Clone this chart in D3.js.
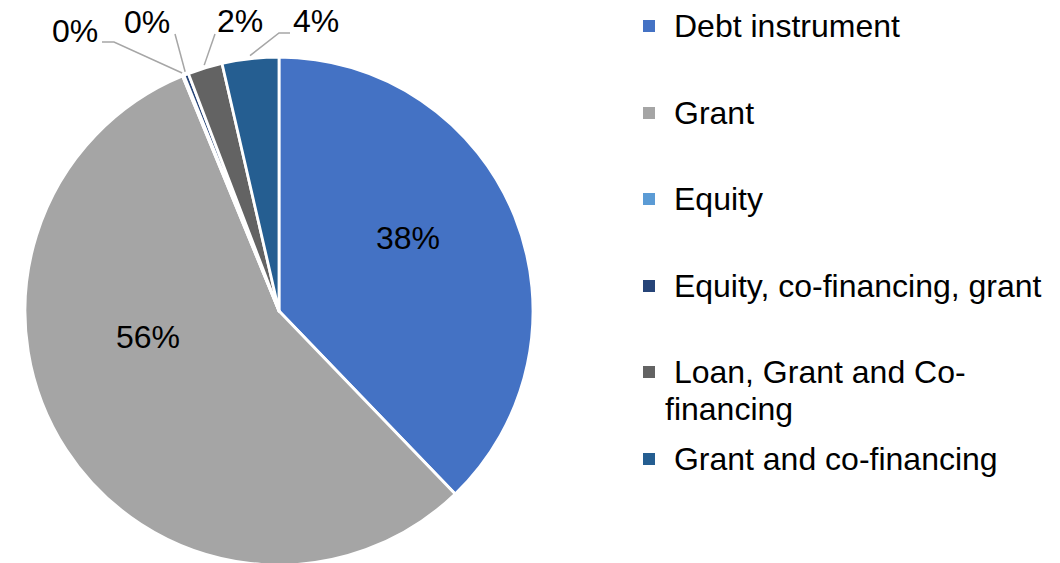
<!DOCTYPE html>
<html><head><meta charset="utf-8">
<script src="https://cdn.jsdelivr.net/npm/d3@7"></script>
<style>html,body{margin:0;padding:0;background:#fff;} svg{display:block}</style>
</head><body><svg id="c" width="1060" height="563"></svg>
<script>
// ---- data ----
const categories = ["Debt instrument","Grant","Equity","Equity, co-financing, grant","Loan, Grant and Co-financing","Grant and co-financing"];
const values = [37.8, 56.0, 0.1, 0.3, 2.2, 3.6];
const colors = ["#4472C4","#A5A5A5","#5B9BD5","#264478","#636363","#255E91"];
const legendLines = [["Debt instrument"],["Grant"],["Equity"],[" Equity, co-financing, grant"],[" Loan, Grant and Co-","financing"],[" Grant and co-financing"]];

// ---- layout ----
const W = 1060, H = 563;
const cx = 279, cy = 311, R = 254;
const font = "'Liberation Sans', Arial, sans-serif";
const fs = 32;
// label placement: inside labels (x,y baseline); outside labels with leader elbow points
const labelLayout = [
  {x:408, y:249},
  {x:148, y:348},
  {x:75,  y:42, leader:[[102,42],[114,42]]},
  {x:147, y:33, leader:[[175,34]]},
  {x:240, y:32, leader:[[215,34]]},
  {x:316, y:32, leader:[[290,33],[279,33]]}
];
const legendX = 643, legendSq = 12, legendTextX = 674;
const legendBaselines = [37, 124, 210, 297, 383, 470];
const legendLineGap = 37;

const svg = d3.select("#c");
svg.append("rect").attr("width",W).attr("height",H).attr("fill","#fff");

const pie = d3.pie().sort(null).value(d=>d)(values);
const arc = d3.arc().innerRadius(0).outerRadius(R);
const g = svg.append("g").attr("transform",`translate(${cx},${cy})`);

g.selectAll("path.slice").data(pie).enter().append("path")
  .attr("class","slice")
  .attr("d",arc)
  .attr("fill",(d,i)=>colors[i])
  .attr("stroke","#fff")
  .attr("stroke-width",2.8)
  .attr("stroke-linejoin","round");

const fmt = v => Math.round(v) + "%";

// leader lines
pie.forEach((d,i)=>{
  const L = labelLayout[i];
  if(!L.leader) return;
  const mid = (d.startAngle + d.endAngle)/2;
  const ex = cx + (R+3)*Math.sin(mid), ey = cy - (R+3)*Math.cos(mid);
  const pts = L.leader.concat([[ex,ey]]);
  svg.append("path")
    .attr("d", d3.line()(pts))
    .attr("fill","none")
    .attr("stroke","#A6A6A6")
    .attr("stroke-width",1.5);
});

// labels
pie.forEach((d,i)=>{
  const L = labelLayout[i];
  svg.append("text")
    .attr("x",L.x).attr("y",L.y)
    .attr("text-anchor","middle")
    .attr("font-family",font).attr("font-size",fs)
    .attr("fill","#000")
    .text(fmt(values[i]));
});

// legend
const lg = svg.append("g");
categories.forEach((c,i)=>{
  const b = legendBaselines[i];
  lg.append("rect")
    .attr("x",legendX).attr("y",b-11-legendSq/2)
    .attr("width",legendSq).attr("height",legendSq)
    .attr("fill",colors[i]);
  legendLines[i].forEach((ln,j)=>{
    lg.append("text")
      .attr("x", j===0 ? legendTextX - (ln.startsWith(" ")?9:0) : 665)
      .attr("y", b + j*legendLineGap)
      .attr("font-family",font).attr("font-size",fs)
      .attr("fill","#000")
      .attr("xml:space","preserve")
      .style("white-space","pre")
      .text(ln);
  });
});
</script>
</body></html>
